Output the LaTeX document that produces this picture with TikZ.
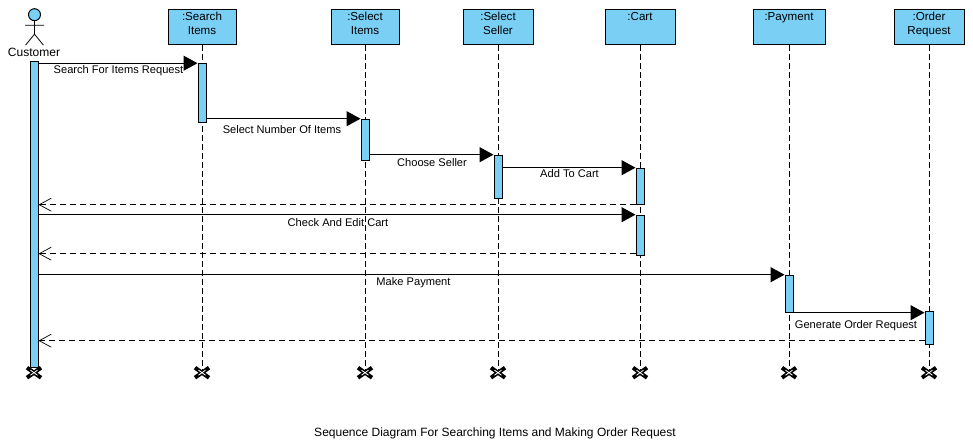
\documentclass[tikz,border=0pt]{standalone}
\usepackage{fontspec}
\setmainfont{Liberation Sans}
\usetikzlibrary{arrows.meta,calc}
\definecolor{fillblue}{HTML}{7ACFF5}
\tikzset{
  x=1pt,y=-1pt,
  headbase/.style={draw=black,fill=fillblue,line width=1pt,minimum height=35pt,align=center,inner sep=0pt,font=\fontsize{11.6}{14}\selectfont},
  head/.style={headbase,text height=25pt,text depth=10pt},
  headone/.style={headbase,text height=11pt,text depth=24pt},
  activation/.style={draw=black,fill=fillblue,line width=1pt,minimum width=8pt,inner sep=0pt},
  lifeline/.style={draw=black,line width=0.8pt,dash pattern=on 6pt off 3pt},
  msg/.style={draw=black,line width=1pt,-{Triangle[length=14pt,width=15pt,fill=black]}},
  ret/.style={draw=black,line width=0.8pt,dash pattern=on 6pt off 4pt,-{Straight Barb[length=12pt,width=13pt,line width=0.7pt]}},
  lab/.style={font=\fontsize{11.1}{13}\selectfont,inner sep=0pt,anchor=center},
}
\begin{document}
\begin{tikzpicture}
\useasboundingbox (0,0) rectangle (973,446);
\begin{scope}[yshift=-0.2pt]
% heads
\node[head,minimum width=68pt] (h1) at (202,27) {:Search\\Items};
\node[head,minimum width=68pt] (h2) at (365,27) {:Select\\Items};
\node[head,minimum width=70pt] (h3) at (498,27) {:Select\\Seller};
\node[headone,minimum width=70pt] (h4) at (640,27) {:Cart};
\node[headone,minimum width=72pt] (h5) at (789,27) {:Payment};
\node[head,minimum width=70pt] (h6) at (929,27) {:Order\\Request};
% end marks coordinates and lifelines
\coordinate (e0) at (34,372.5);
\coordinate (e1) at (202,372.5);
\coordinate (e2) at (365,372.5);
\coordinate (e3) at (498,372.5);
\coordinate (e4) at (640,372.5);
\coordinate (e5) at (789,372.5);
\coordinate (e6) at (929,372.5);
\foreach \i in {1,...,6}{\draw[lifeline] (h\i.south) -- (e\i);}
% actor
\node[circle,draw=black,fill=fillblue,line width=1pt,minimum size=12pt,inner sep=0pt] (actorhead) at (34.5,14.5) {};
\coordinate (hip) at (34.5,34);
\draw[black,line width=0.8pt] (actorhead.south) -- (hip) (25,25) -- (44,25) (hip) -- (25.5,45) (hip) -- (43.5,45);
\node[font=\fontsize{12}{14}\selectfont,inner sep=0pt] (actorname) at (34,52.5) {Customer};
% activations
\node[activation,minimum height=306pt] (a0) at (34,214) {};
\node[activation,minimum height=59pt] (a1) at (202,93) {};
\node[activation,minimum height=41pt] (a2) at (365,139.5) {};
\node[activation,minimum height=43pt] (a3) at (498,176.5) {};
\node[activation,minimum height=36pt] (a4) at (640,186) {};
\node[activation,minimum height=40pt] (a5) at (640,235) {};
\node[activation,minimum height=37pt] (a6) at (789,293.5) {};
\node[activation,minimum height=33pt] (a7) at (929,327.5) {};
% end marks
\foreach \i in {0,...,6}{
  \draw[black,line width=4pt] ($(e\i)+(-7,-5)$) -- ($(e\i)+(7,5)$) ($(e\i)+(-7,5)$) -- ($(e\i)+(7,-5)$);
  \draw[white,line width=0.8pt] ($(e\i)+(-3.5,-2.5)$) -- ($(e\i)+(3.5,2.5)$) ($(e\i)+(-3.5,2.5)$) -- ($(e\i)+(3.5,-2.5)$);
}
% messages
\draw[msg] (a0.east |- a1.north) -- (a1.north west);
\draw[msg] (a1.east |- a2.north) -- (a2.north west);
\draw[msg] (a2.east |- a3.north) -- (a3.north west);
\draw[msg] (a3.east |- a4.north) -- (a4.north west);
\draw[ret] (a4.south west) -- (a0.east |- a4.south);
\draw[msg] (a0.east |- a5.north) -- (a5.north west);
\draw[ret] ([yshift=2pt]a5.south west) -- ([yshift=2pt]a0.east |- a5.south);
\draw[msg] (a0.east |- a6.north) -- (a6.north west);
\draw[msg] (a6.south east) -- (a7.west |- a6.south);
\draw[ret] ([yshift=4pt]a7.south west) -- ([yshift=4pt]a0.east |- a7.south);
% labels
\node[lab] (l1) at (118.5,70) {Search For Items Request};
\node[lab] (l2) at (282,129.5) {Select Number Of Items};
\node[lab] (l3) at (432,162) {Choose Seller};
\node[lab] (l4) at (569.5,173.5) {Add To Cart};
\node[lab] (l5) at (338,222) {Check And Edit Cart};
\node[lab] (l6) at (413.5,282) {Make Payment};
\node[lab] (l7) at (856,325.5) {Generate Order Request};
\node[lab,font=\fontsize{12}{14}\selectfont] (title) at (495,433.5) {Sequence Diagram For Searching Items and Making Order Request};
\end{scope}
\end{tikzpicture}
\end{document}
